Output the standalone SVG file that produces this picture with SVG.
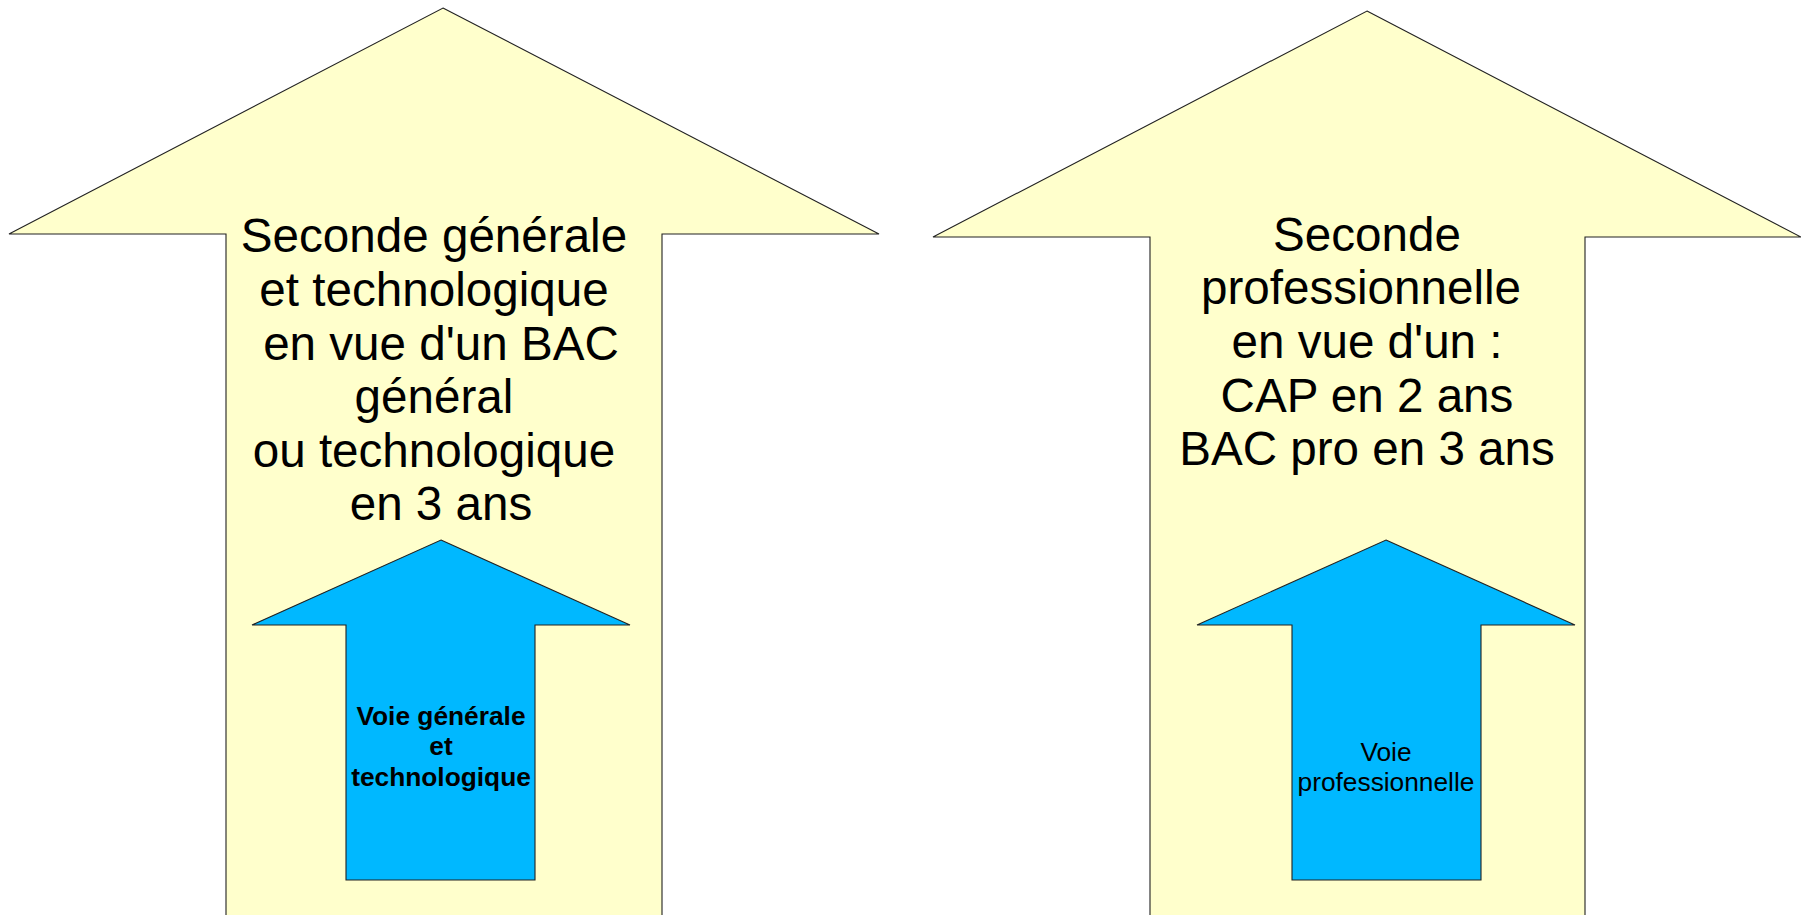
<svg xmlns="http://www.w3.org/2000/svg" width="1801" height="915" viewBox="0 0 1801 915">
<style>
.big{fill:#FFFFCC;stroke:#222;stroke-width:1.1}
.small{fill:#00B8FF;stroke:#222;stroke-width:1.1}
.t{font-family:"Liberation Sans",Arial,sans-serif;fill:#000;text-anchor:middle}
.tb{font-size:47.6px}
.ts{font-size:26.3px}
.bold{font-weight:bold}
</style>
<rect width="1801" height="915" fill="#fff"/>
<g id="arrow-left">
<polygon class="big" points="443,8 879,234 662,234 662,916 226,916 226,234 9,234"/>
<text class="t tb" x="434" y="252">Seconde générale</text>
<text class="t tb" x="434" y="306">et technologique</text>
<text class="t tb" x="441" y="360">en vue d'un BAC</text>
<text class="t tb" x="434" y="413">général</text>
<text class="t tb" x="434" y="467">ou technologique</text>
<text class="t tb" x="441" y="520">en 3 ans</text>
</g>
<g id="arrow-right">
<polygon class="big" points="1367,11 1801,237 1585,237 1585,916 1150,916 1150,237 933,237"/>
<text class="t tb" x="1367" y="251">Seconde</text>
<text class="t tb" x="1361" y="304">professionnelle</text>
<text class="t tb" x="1367" y="358">en vue d'un :</text>
<text class="t tb" x="1367" y="412">CAP en 2 ans</text>
<text class="t tb" x="1367" y="465">BAC pro en 3 ans</text>
</g>
<g id="voie-generale">
<polygon class="small" points="441,540 630,625 535,625 535,880 346,880 346,625 252,625"/>
<text class="t ts bold" x="441" y="725">Voie générale</text>
<text class="t ts bold" x="441" y="755">et</text>
<text class="t ts bold" x="441" y="786">technologique</text>
</g>
<g id="voie-pro">
<polygon class="small" points="1386,540 1575,625 1481,625 1481,880 1292,880 1292,625 1197,625"/>
<text class="t ts" x="1386" y="761">Voie</text>
<text class="t ts" x="1386" y="791">professionnelle</text>
</g>
<g id="connectors"/>
</svg>
